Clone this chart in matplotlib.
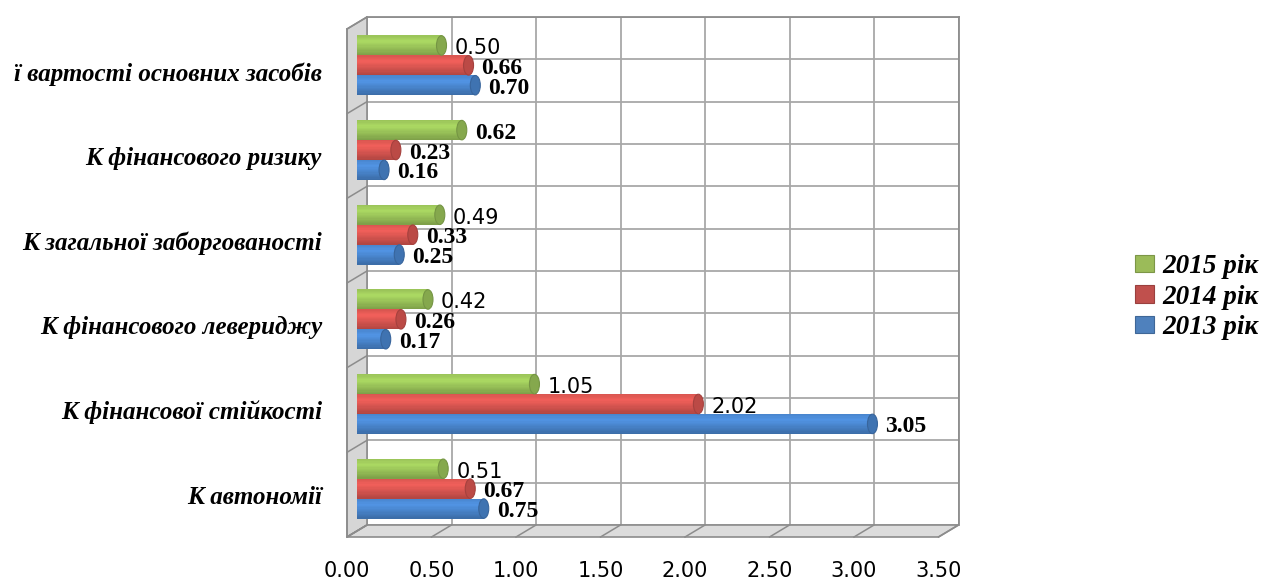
import numpy as np
import matplotlib.pyplot as plt
from matplotlib.patches import Polygon, Ellipse, Patch
from matplotlib.colors import to_rgb

# coefficients, bottom to top
categories = ['К автономії', 'К фінансової стійкості', 'К фінансового левериджу',
              'К загальної заборгованості', 'К фінансового ризику',
              'ї вартості основних засобів']
years = ['2015 рік', '2014 рік', '2013 рік']
v2015 = [0.51, 1.05, 0.42, 0.49, 0.62, 0.50]
v2014 = [0.67, 2.02, 0.26, 0.33, 0.23, 0.66]
v2013 = [0.75, 3.05, 0.17, 0.25, 0.16, 0.70]
xticks = [0.0, 0.5, 1.0, 1.5, 2.0, 2.5, 3.0, 3.5]

# which value labels are printed in bold serif (the others in plain sans)
serif2015 = [False, False, False, False, True, False]
serif2014 = [True, False, True, True, True, True]
serif2013 = [True, True, True, True, True, True]

colors = ['#9cc65a', '#dc5752', '#4a87d0']
legend_colors = ['#9bbb59', '#c0504d', '#4f81bd']

W, H = 1267, 579
fig = plt.figure(figsize=(W / 100, H / 100), dpi=100)

# 3d look: back wall, bars at mid depth and front plane are the same axes shifted
AX_W, AX_H = 591.5, 508
DX, DY = 20, 12
X0, YB = 347, 537


def px_axes(left, bottom, zorder):
    ax = fig.add_axes([left / W, (H - bottom) / H, AX_W / W, AX_H / H])
    ax.set_xlim(0, 3.5)
    ax.set_ylim(-0.5, 5.5)
    ax.set_zorder(zorder)
    ax.patch.set_alpha(0)
    return ax


def fp(x, y):
    return (x / W, 1 - y / H)


back = px_axes(X0 + DX, YB - DY, 0)
mid = px_axes(X0 + DX / 2, YB - DY / 2, 2)
front = px_axes(X0, YB, 3)

# back wall grid
back.set_xticks(xticks)
back.set_yticks(np.arange(-0.5, 5.6, 0.5))
back.tick_params(length=0, labelbottom=False, labelleft=False)
back.grid(color='#a8a8a8', lw=1.3)
for s in ['left', 'bottom']:
    back.spines[s].set_visible(False)
for s in ['top', 'right']:
    back.spines[s].set_color('#8c8c8c')
    back.spines[s].set_linewidth(1.3)

# left wall and floor
xl, xr = X0, X0 + AX_W
yt = YB - AX_H
wall = Polygon([fp(xl, YB), fp(xl, yt), fp(xl + DX, yt - DY), fp(xl + DX, YB - DY)],
               closed=True, transform=fig.transFigure, facecolor='#d6d6d6',
               edgecolor='#8c8c8c', lw=1.2, zorder=1)
fig.add_artist(wall)
floor = Polygon([fp(xl, YB), fp(xr, YB), fp(xr + DX, YB - DY), fp(xl + DX, YB - DY)],
                closed=True, transform=fig.transFigure, facecolor='#dcdcdc',
                edgecolor='#8c8c8c', lw=1.2, zorder=1)
fig.add_artist(floor)
py = AX_H / 6
for k in range(7):
    y = YB - k * py
    fig.add_artist(plt.Line2D([xl / W, (xl + DX) / W], [1 - y / H, 1 - (y - DY) / H],
                              transform=fig.transFigure, color='#8c8c8c', lw=1.1, zorder=1))
px = AX_W / 3.5
for t in xticks:
    x = xl + t * px
    fig.add_artist(plt.Line2D([x / W, (x + DX) / W], [1 - YB / H, 1 - (YB - DY) / H],
                              transform=fig.transFigure, color='#8c8c8c', lw=1.1, zorder=1))


def shade(c, f):
    r = np.array(to_rgb(c)) * f
    return tuple(np.clip(r, 0, 1))


# cylinders drawn as thin strips for the shading plus an elliptical end cap
pos = np.arange(len(categories))
h = 0.235
cap_w = 10 / px
n_strip = 16
prof_t = [0.0, 0.3, 1.0]
prof_f = [0.98, 1.1, 0.8]
series = [v2015, v2014, v2013]
serif = [serif2015, serif2014, serif2013]
offsets = [h, 0, -h]

for vals, col, off, sf in zip(series, colors, offsets, serif):
    yc = pos + off
    for j in range(n_strip):
        t = (j + 0.5) / n_strip
        f = np.interp(t, prof_t, prof_f)
        ys = yc + h / 2 - (j + 0.5) * h / n_strip
        mid.barh(ys, vals, height=h / n_strip * 1.05, left=0, color=shade(col, f),
                 lw=0, zorder=3)
    for v, y, is_serif in zip(vals, yc, sf):
        mid.add_patch(Ellipse((0, y), cap_w, h * 0.98, facecolor=shade(col, 0.95),
                              lw=0, zorder=2))
        mid.add_patch(Ellipse((v, y), cap_w, h * 0.98, facecolor=shade(col, 0.85),
                              edgecolor=shade(col, 0.75), lw=0.8, zorder=4))
        if is_serif:
            font = dict(family='Liberation Serif', weight='bold', size=17)
        else:
            font = dict(family='DejaVu Sans', size=15)
        mid.annotate(f'{v:.2f}', xy=(v, y), xytext=(13, -3), textcoords='offset pixels',
                     ha='left', va='center', color='black', zorder=5, **font)
mid.axis('off')

# front plane: axis labels
for s in front.spines.values():
    s.set_visible(False)
front.plot([0, 0], [-0.5, 5.5], color='#8c8c8c', lw=1.2, clip_on=False)
front.set_xticks(xticks)
front.set_xticklabels([f'{t:.2f}' for t in xticks], family='DejaVu Sans', fontsize=15)
front.set_yticks(pos)
front.set_yticklabels(categories, family='Liberation Serif', weight='bold',
                      style='italic', fontsize=18)
front.tick_params(axis='x', length=0, pad=17)
front.tick_params(axis='y', length=0, pad=18)

handles = [Patch(facecolor=c, edgecolor=shade(c, 0.8), lw=0.8) for c in legend_colors]
fig.legend(handles, years, loc='center left', bbox_to_anchor=(1135 / W, 1 - 297 / H),
           frameon=False, handlelength=0.7, handleheight=0.6, handletextpad=0.3,
           labelspacing=0.2, borderpad=0, borderaxespad=0,
           prop=dict(family='Liberation Serif', weight='bold', style='italic', size=19.5))

fig.savefig('out.png', dpi=100)
